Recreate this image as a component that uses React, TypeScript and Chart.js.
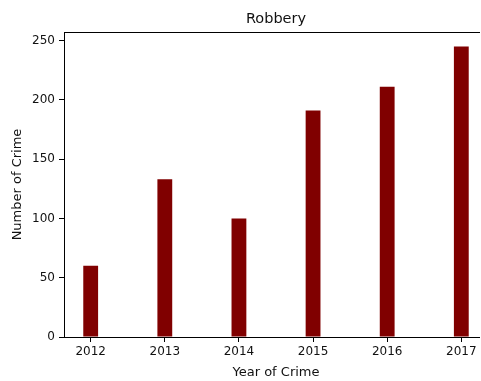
import React, { useEffect, useRef } from "react";
import { Chart, registerables } from "chart.js";

Chart.register(...registerables);

const years = ["2012", "2013", "2014", "2015", "2016", "2017"];
const robberies = [60, 133, 100, 191, 211, 245];
const yTicks = [0, 50, 100, 150, 200, 250];
const chartTitle = "Robbery";
const xLabel = "Year of Crime";
const yLabel = "Number of Crime";

const FONT = "'DejaVu Sans', sans-serif";

const framePlugin = {
  id: "frame",
  afterDraw(chart: any) {
    const { ctx, chartArea } = chart;
    ctx.save();
    ctx.strokeStyle = "#000";
    ctx.lineWidth = 1;
    ctx.beginPath();
    ctx.moveTo(chartArea.left, chartArea.top + 0.5);
    ctx.lineTo(chartArea.right, chartArea.top + 0.5);
    ctx.stroke();
    ctx.fillStyle = "#111";
    ctx.font = `14.5px ${FONT}`;
    ctx.textAlign = "center";
    ctx.textBaseline = "middle";
    ctx.fillText(chartTitle, (chartArea.left + chartArea.right) / 2, 19);
    ctx.restore();
  },
};

export default function App() {
  const ref = useRef<HTMLCanvasElement | null>(null);
  useEffect(() => {
    if (!ref.current) return;
    const n = years.length;
    const chart = new Chart(ref.current, {
      type: "bar",
      data: {
        datasets: [
          {
            data: robberies.map((v, i) => ({ x: i, y: v })),
            backgroundColor: "#800000",
            borderWidth: 0,
            categoryPercentage: 1,
            barPercentage: 0.2,
          },
        ],
      },
      options: {
        animation: false,
        responsive: false,
        devicePixelRatio: 1,
        layout: { padding: { left: 0, top: 32, right: 8, bottom: 0 } },
        plugins: { legend: { display: false }, tooltip: { enabled: false }, title: { display: false } },
        scales: {
          x: {
            type: "linear",
            offset: false,
            min: -0.36,
            max: n - 1 + 0.36,
            afterBuildTicks: (s: any) => {
              s.ticks = years.map((_, i) => ({ value: i }));
            },
            afterFit: (s: any) => {
              s.height = 44;
            },
            grid: { offset: false, drawOnChartArea: false, drawTicks: true, tickLength: 5, color: "#000", tickWidth: 1 },
            border: { display: true, color: "#000", width: 1 },
            ticks: {
              autoSkip: false,
              maxRotation: 0,
              padding: 3,
              color: "#111",
              font: { family: FONT, size: 12 },
              callback: (v: any) => years[v] ?? "",
            },
            title: {
              display: true,
              text: xLabel,
              color: "#111",
              font: { family: FONT, size: 13 },
              padding: { top: 0, bottom: 1 },
            },
          },
          y: {
            type: "linear",
            min: 0,
            max: 245 * 1.05,
            afterBuildTicks: (s: any) => {
              s.ticks = yTicks.map((v) => ({ value: v }));
            },
            afterFit: (s: any) => {
              s.width = 64;
            },
            grid: { drawOnChartArea: false, drawTicks: true, tickLength: 5, color: "#000", tickWidth: 1 },
            border: { display: true, color: "#000", width: 1 },
            ticks: {
              padding: 4,
              color: "#111",
              font: { family: FONT, size: 12 },
            },
            title: {
              display: true,
              text: yLabel,
              color: "#111",
              font: { family: FONT, size: 13 },
              padding: { top: 10, bottom: 0 },
            },
          },
        },
      },
      plugins: [framePlugin],
    });
    return () => chart.destroy();
  }, []);
  return (
    <div
      style={{
        position: "fixed",
        left: 0,
        top: 0,
        width: 480,
        height: 381,
        overflow: "hidden",
        background: "#fff",
      }}
    >
      <canvas ref={ref} width={496} height={381} style={{ display: "block", width: 496, height: 381 }} />
    </div>
  );
}
